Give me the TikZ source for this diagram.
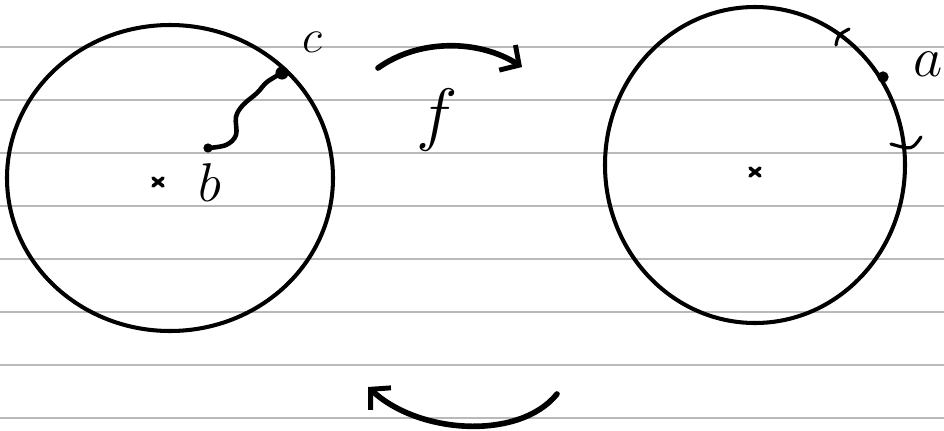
\documentclass[tikz,border=0pt]{standalone}
\usepackage{graphicx}
\usetikzlibrary{arrows.meta}
\newcommand{\handletter}[2]{{\Huge\scalebox{#1}{$#2$}}}
\tikzset{
  pen/.style={line width=2.3pt, line cap=round, line join=round},
  ruled/.style={gray!55, line width=0.7pt},
  tickmark/.style={pen, line width=1.8pt},
  swing/.style={pen, line width=3.2pt, -{Straight Barb[length=8pt, width=17pt, line width=2.8pt]}},
  centremark/.pic={\draw[pen, line width=2pt] (-5,-4) -- (5,4) (-5,4) -- (5,-4);}
}
\begin{document}
\begin{tikzpicture}[x=0.02cm, y=-0.02cm]
  \useasboundingbox (0,0) rectangle (944,430);

  % ruled paper
  \foreach \row in {47,100,153,206,259,312,365,418}
    \draw[ruled] (0,\row) -- (944,\row);

  % left disc
  \node (lc) at (170,178) {};
  \draw[pen] (lc.center) ellipse [x radius=163, y radius=153];
  \node (c) at (282,73) {};
  \node (bend) at (208,148) {};
  \draw[fill=black] (c.center) circle (3.5pt);
  \draw[pen, line width=2.6pt] plot[smooth, tension=0.6] coordinates
    {(282,73) (267,82) (257,93) (243,105) (236,117) (236,135) (226,145) (208,148)};
  \draw[fill=black] (bend.center) circle (2.4pt);
  \node (lx) at (158,182) {};
  \pic at (lx.center) {centremark};
  \node (b) at (210,183) {\handletter{1.25}{b}};
  \node (clab) at (312,42) {\handletter{1.08}{c}};

  % right disc
  \node (rc) at (755,165) {};
  \draw[pen] (rc.center) ellipse [x radius=150, y radius=158];
  \node (a) at (883,77) {};
  \draw[fill=black] (a.center) circle (3pt);
  \draw[tickmark] (836,45) .. controls (838,35) .. (849,29);
  \draw[tickmark] (891,144) .. controls (912,150) .. (921,137);
  \node (rx) at (755,172) {};
  \pic at (rx.center) {centremark};
  \node (alab) at (928,64) {\handletter{1.3}{a}};

  % maps between the discs
  \coordinate (fs) at (378,68);
  \coordinate (ft) at (522,67);
  \draw[swing] (fs) .. controls (420,38) and (480,40) .. (ft);
  \node (f) at (437,120) {\handletter{1.6}{f}};
  \coordinate (gs) at (557,394);
  \coordinate (gt) at (368,387);
  \draw[swing] (gs) .. controls (520,440) and (420,435) .. (gt);
\end{tikzpicture}
\end{document}
